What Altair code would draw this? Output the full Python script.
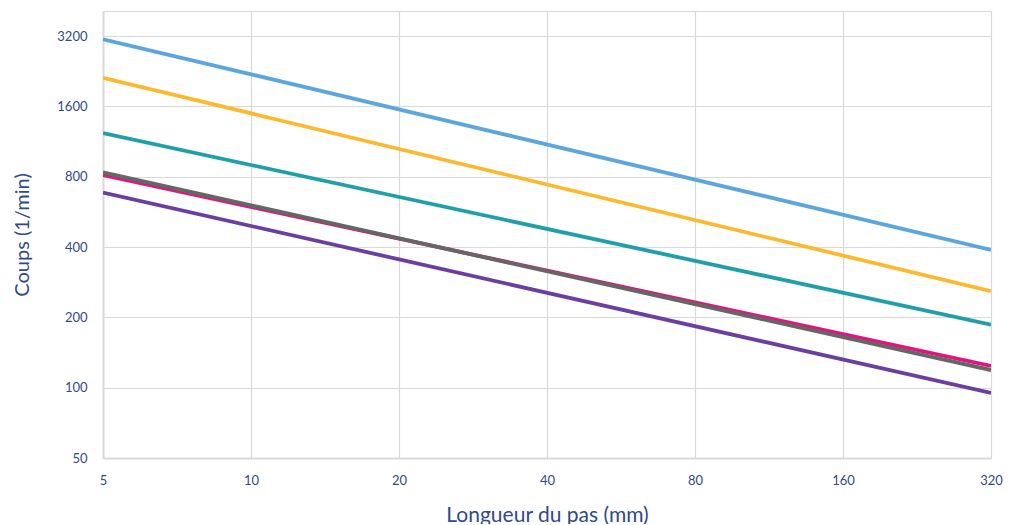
import altair as alt
import pandas as pd

series = ["Série 1", "Série 2", "Série 3", "Série 4", "Série 5", "Série 6"]
colors = ["#5BA7DD", "#FDB92D", "#1FA0A8", "#E0157F", "#666666", "#6A3FA0"]
x_start = 5
x_end = 320
y_start = [3100, 2120, 1230, 813, 834, 684]
y_end = [389, 259, 186, 124, 119, 95]

x_ticks = [5, 10, 20, 40, 80, 160, 320]
y_ticks = [50, 100, 200, 400, 800, 1600, 3200]

rows = []
for i, s in enumerate(series):
    rows.append({"serie": s, "ordre": i, "x": x_start, "y": y_start[i]})
    rows.append({"serie": s, "ordre": i, "x": x_end, "y": y_end[i]})
df = pd.DataFrame(rows)

font = "Lato"
txt = "#2F4A8C"
grid = "#D9D9D9"

chart = alt.Chart(df).mark_line(strokeWidth=3.8, clip=True).encode(
    x=alt.X("x:Q",
            scale=alt.Scale(type="log", base=2, domain=[5, 320], nice=False),
            axis=alt.Axis(values=x_ticks, title="Longueur du pas (mm)", format="d",
                          labelFlush=False, ticks=False, labelPadding=16,
                          titlePadding=17, titleFontSize=21, grid=True)),
    y=alt.Y("y:Q",
            scale=alt.Scale(type="log", base=2, domain=[50, 4096], nice=False),
            axis=alt.Axis(values=y_ticks, title="Coups (1/min)", format="d",
                          ticks=False, labelPadding=16, titlePadding=24,
                          titleFontSize=20, grid=True)),
    color=alt.Color("serie:N", scale=alt.Scale(domain=series, range=colors), legend=None),
    order=alt.Order("ordre:Q"),
    detail="serie:N",
).properties(
    width=888, height=447,
    autosize=alt.AutoSizeParams(type="none"),
    padding={"left": 95, "top": 3, "right": 12, "bottom": 66},
).configure_view(
    stroke=grid, strokeWidth=1
).configure_axis(
    labelFont=font, titleFont=font, labelColor=txt, titleColor=txt,
    labelFontSize=13, titleFontWeight="normal",
    gridColor=grid, gridWidth=1.2, domainColor=grid, domainWidth=2,
)

chart.save("out.html", embed_options={"renderer": "svg", "actions": False})
